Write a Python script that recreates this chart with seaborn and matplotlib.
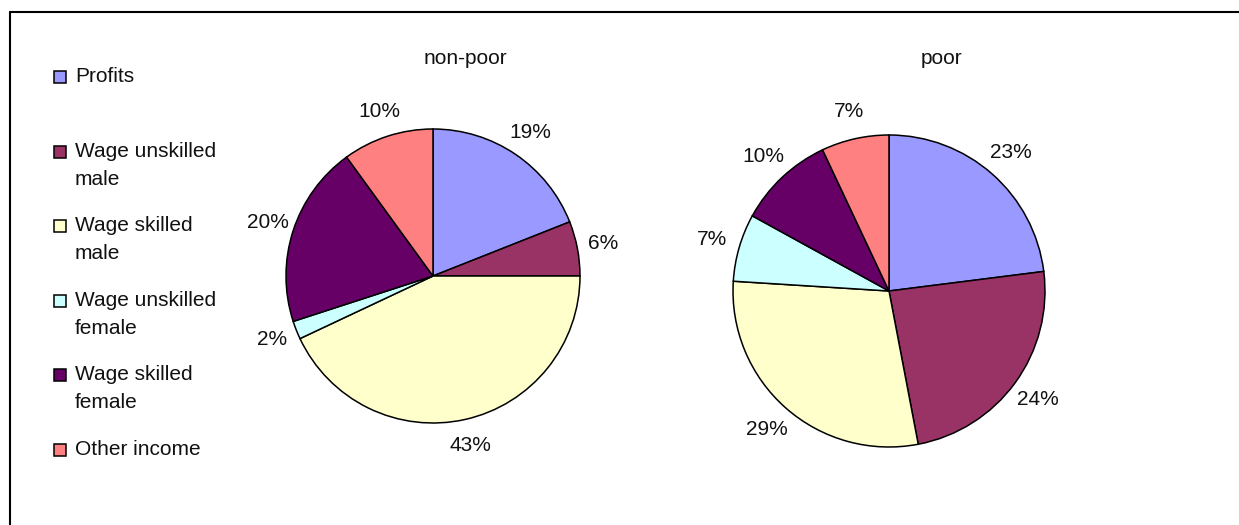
import numpy as np
import matplotlib
matplotlib.use("Agg")
import matplotlib.pyplot as plt
import seaborn as sns
from matplotlib.patches import Rectangle
from matplotlib.lines import Line2D

sns.set_theme(style="white")
plt.rcParams['font.family'] = ['Liberation Sans', 'DejaVu Sans']

# data
categories = ["Profits", "Wage unskilled\nmale", "Wage skilled\nmale",
              "Wage unskilled\nfemale", "Wage skilled\nfemale", "Other income"]
nonpoor_share = [19, 6, 43, 2, 20, 10]
poor_share = [23, 24, 29, 7, 10, 7]
group_titles = ["non-poor", "poor"]
colors = ["#9999FF", "#993366", "#FFFFCC", "#CCFFFF", "#660066", "#FF8080"]

W, H = 1239, 525
fig = plt.figure(figsize=(W / 100, H / 100), dpi=100)
fig.patch.set_facecolor("white")


def px_axes(cx, cy, r):
    # axes centred on a pixel position, holding a pie of radius r (pixels)
    half = 1.25 * r
    return fig.add_axes([(cx - half) / W, (H - cy - half) / H, 2 * half / W, 2 * half / H])


def draw_pie(ax, values):
    ax.pie(values, colors=colors, startangle=90, counterclock=False,
           autopct='%1.0f%%', pctdistance=1.18,
           wedgeprops=dict(edgecolor="black", linewidth=1.1),
           textprops=dict(fontsize=15, color="#111111"))
    ax.set_xlim(-1.25, 1.25)
    ax.set_ylim(-1.25, 1.25)
    ax.set_aspect("equal")
    ax.axis("off")


ax1 = px_axes(433, 276, 147)
draw_pie(ax1, nonpoor_share)
ax2 = px_axes(889, 291, 156)
draw_pie(ax2, poor_share)

fig.text(465 / W, 1 - 58 / H, group_titles[0], ha="center", va="center", fontsize=15, color="#111111")
fig.text(941 / W, 1 - 58 / H, group_titles[1], ha="center", va="center", fontsize=15, color="#111111")

# legend on the left, drawn by hand to keep Excel-like spacing
for i, (lab, col) in enumerate(zip(categories, colors)):
    yc = 75 + i * 74.6
    fig.patches.append(Rectangle((54 / W, 1 - (yc + 8) / H), 12 / W, 12 / H,
                                 transform=fig.transFigure, facecolor=col,
                                 edgecolor="black", linewidth=1.1))
    fig.text(75 / W, 1 - (yc - 8) / H, lab, ha="left", va="top", fontsize=15,
             linespacing=1.6, color="#111111")

# frame (only top and left edges are visible)
fig.lines.append(Line2D([10 / W, 1], [1 - 12 / H, 1 - 12 / H], transform=fig.transFigure,
                        color="black", linewidth=1.5))
fig.lines.append(Line2D([10 / W, 10 / W], [0, 1 - 12 / H], transform=fig.transFigure,
                        color="black", linewidth=1.5))

fig.savefig("out.png", dpi=100)
